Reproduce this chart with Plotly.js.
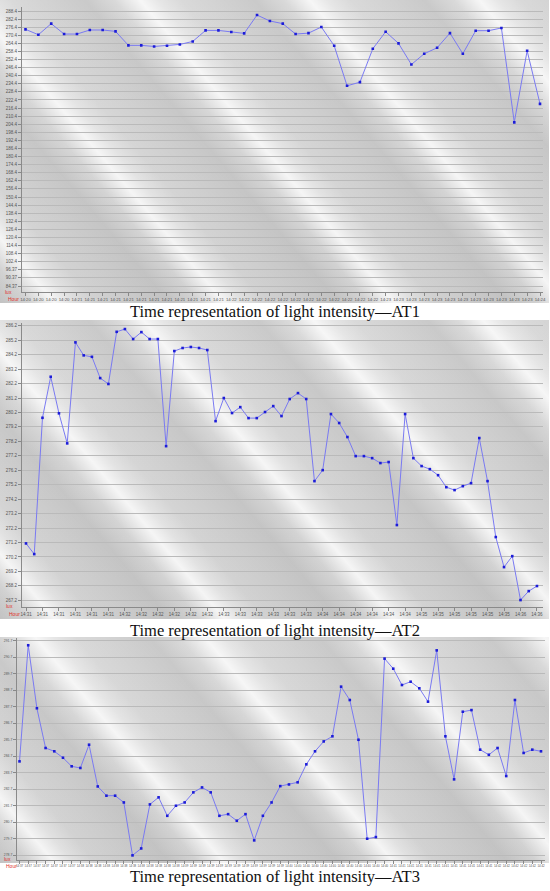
<!DOCTYPE html>
<html>
<head>
<meta charset="utf-8">
<script src="https://cdn.plot.ly/plotly-3.0.1.min.js"></script>
<style>
  html, body { margin: 0; padding: 0; background: #ffffff; }
  #wrap { position: relative; width: 550px; height: 891px; overflow: hidden; background: #ffffff; }
  .bg {
    position: absolute; left: 0; width: 549px;
    background:
      repeating-linear-gradient(50deg,
        rgba(0,0,0,0.07) 0px, rgba(255,255,255,0) 22px, rgba(255,255,255,0.78) 42px,
        rgba(255,255,255,0.35) 56px, rgba(255,255,255,0) 74px,
        rgba(0,0,0,0.03) 100px, rgba(0,0,0,0.07) 130px),
      linear-gradient(180deg, #d9d9d9, #d1d1d1);
  }
  #chart { position: absolute; left: 0; top: 0; width: 550px; height: 891px; }
</style>
</head>
<body>
<div id="wrap">
  <div class="bg" style="top:0px;height:303px"></div>
  <div class="bg" style="top:320px;height:299px"></div>
  <div class="bg" style="top:637px;height:226px"></div>
  <div id="chart"></div>
</div>
<script>
// ---------- AT1 ----------
const at1Time = ['14:20','14:20','14:20','14:20',
  '14:21','14:21','14:21','14:21','14:21','14:21','14:21','14:21','14:21','14:21','14:21','14:21',
  '14:22','14:22','14:22','14:22','14:22','14:22','14:22','14:22','14:22','14:22','14:22','14:22',
  '14:23','14:23','14:23','14:23','14:23','14:23','14:23','14:23','14:23','14:23','14:23','14:23',
  '14:24'];
const at1Lux = [274.8,270.8,279.0,271.3,271.3,274.3,274.3,273.3,262.9,262.9,262.1,262.6,263.6,265.8,
  274.0,274.0,272.8,271.8,285.4,281.0,279.0,271.3,272.0,276.5,262.6,232.9,235.6,260.4,273.0,264.4,
  248.7,256.7,261.1,272.0,256.7,273.8,273.8,275.8,205.8,258.9,219.5];
const at1YLabels = ['288.4','282.4','276.4','270.4','264.4','258.4','252.4','246.4','240.4','234.4',
  '228.4','222.4','216.4','210.4','204.4','198.4','192.4','186.4','180.4','174.4','168.4','162.4',
  '156.4','150.4','144.4','138.4','132.4','126.4','120.4','114.4','108.4','102.4','96.37','90.37','84.37'];

// ---------- AT2 ----------
const at2Time = ['14:31','14:31','14:31','14:31','14:31','14:31',
  '14:32','14:32','14:32','14:32','14:32','14:32',
  '14:33','14:33','14:33','14:33','14:33','14:33',
  '14:34','14:34','14:34','14:34','14:34','14:34',
  '14:35','14:35','14:35','14:35','14:35','14:35',
  '14:36','14:36'];
const at2Lux = [271.14,270.4,279.83,282.67,280.14,278.06,285.05,284.15,284.05,282.58,
  282.17,285.78,285.97,285.28,285.76,285.28,285.28,277.87,284.45,284.66,
  284.73,284.66,284.52,279.6,281.2,280.16,280.57,279.81,279.81,280.23,
  280.64,279.95,281.13,281.54,281.13,275.45,276.21,280.09,279.47,278.5,
  277.18,277.18,277.04,276.7,276.77,272.41,280.09,277.04,276.49,276.28,
  275.86,275.03,274.83,275.1,275.31,278.43,275.45,271.58,269.5,270.26,
  267.22,267.84,268.19];
const at2YLabels = ['286.2','285.2','284.2','283.2','282.2','281.2','280.2','279.2','278.2','277.2',
  '276.2','275.2','274.2','273.2','272.2','271.2','270.2','269.2','268.2','267.2'];

// ---------- AT3 ----------
const at3Time = ['14:37','14:37','14:37','14:37','14:37','14:37','14:37',
  '14:38','14:38','14:38','14:38','14:38','14:38','14:38','14:38','14:38','14:38','14:38','14:38',
  '14:39','14:39','14:39','14:39','14:39','14:39','14:39','14:39','14:39','14:39','14:39','14:39',
  '14:40','14:40','14:40','14:40','14:40','14:40','14:40','14:40','14:40','14:40','14:40','14:40',
  '14:41','14:41','14:41','14:41','14:41','14:41','14:41','14:41','14:41','14:41','14:41','14:41',
  '14:42','14:42','14:42','14:42','14:42','14:42'];
const at3Lux = [284.38,291.42,287.6,285.19,284.99,284.6,284.08,283.98,285.39,282.86,
  282.3,282.3,281.89,278.68,279.1,281.77,282.2,281.08,281.69,281.89,
  282.5,282.8,282.5,281.08,281.18,280.78,281.18,279.59,281.08,281.89,
  282.88,282.98,283.11,284.2,284.99,285.59,285.9,288.91,288.1,285.69,
  279.69,279.79,290.61,290.0,289.01,289.21,288.81,288.0,291.11,285.9,
  283.29,287.39,287.49,285.09,284.78,285.19,283.49,288.1,284.89,285.09,284.99];
const at3YLabels = ['291.7','290.7','289.7','288.7','287.7','286.7','285.7','284.7','283.7','282.7',
  '281.7','280.7','279.7','278.7'];

const captions = ['Time representation of light intensity\u2014AT1',
                  'Time representation of light intensity\u2014AT2',
                  'Time representation of light intensity\u2014AT3'];

// ---------- geometry helpers (pixels -> paper) ----------
const W = 550, H = 891;
const fx = p => p / W;
const fy = p => 1 - p / H;
const idx = arr => arr.map((_, i) => i);

function trace(vals, xa, ya) {
  return {
    x: idx(vals), y: vals, xaxis: xa, yaxis: ya,
    type: 'scatter', mode: 'lines+markers',
    line: { color: '#7a7af2', width: 1 },
    marker: { symbol: 'square', size: 2.6, color: '#1c1cd8' },
    hoverinfo: 'skip'
  };
}

function xAxis(domPx, range, tickvals, ticktext, anchor, fs) {
  return {
    domain: [fx(domPx[0]), fx(domPx[1])], anchor: anchor, range: range,
    tickmode: 'array', tickvals: tickvals, ticktext: ticktext, tickangle: 0,
    tickfont: { family: 'Liberation Sans, Arial, sans-serif', size: fs, color: '#555' },
    ticks: 'outside', ticklen: 3, tickcolor: '#888', tickwidth: 1,
    showline: true, linecolor: '#8a8a8a', linewidth: 1,
    showgrid: false, zeroline: false, fixedrange: true
  };
}
function yAxis(domPx, range, labels, anchor, fs) {
  return {
    domain: [fy(domPx[1]), fy(domPx[0])], anchor: anchor, range: range,
    tickmode: 'array', tickvals: labels.map(parseFloat), ticktext: labels,
    tickfont: { family: 'Liberation Sans, Arial, sans-serif', size: fs, color: '#555' },
    ticks: 'outside', ticklen: 3, tickcolor: '#888', tickwidth: 1,
    showline: true, linecolor: '#8a8a8a', linewidth: 1,
    showgrid: true, gridcolor: '#bababa', gridwidth: 1,
    zeroline: false, fixedrange: true
  };
}

const at2Ticks = at2Time.map((_, i) => i * 2);

const data = [
  trace(at1Lux, 'x', 'y'),
  trace(at2Lux, 'x2', 'y2'),
  trace(at3Lux, 'x3', 'y3')
];

function redLabel(text, xp, yp) {
  return { text: text, xref: 'paper', yref: 'paper', x: fx(xp), y: fy(yp),
    xanchor: 'center', yanchor: 'middle', showarrow: false,
    font: { family: 'Liberation Sans, Arial, sans-serif', size: 5, color: '#e0302a' } };
}
function caption(text, yp) {
  return { text: text, xref: 'paper', yref: 'paper', x: 0.5, y: fy(yp),
    xanchor: 'center', yanchor: 'middle', showarrow: false,
    font: { family: 'Liberation Serif, Times New Roman, serif', size: 16.5, color: '#111' } };
}

const layout = {
  width: W, height: H,
  margin: { l: 0, r: 0, t: 0, b: 0 },
  paper_bgcolor: 'rgba(0,0,0,0)', plot_bgcolor: 'rgba(0,0,0,0)',
  showlegend: false,
  xaxis:  xAxis([22, 543], [-0.272, 40.233], idx(at1Time), at1Time, 'y', 4.3),
  yaxis:  yAxis([7, 291.7], [80.14, 291.37], at1YLabels, 'x', 4.5),
  xaxis2: xAxis([22, 543], [-0.485, 62.73], at2Ticks, at2Time, 'y2', 4.5),
  yaxis2: yAxis([323, 607], [266.74, 286.39], at2YLabels, 'x2', 4.5),
  xaxis3: xAxis([17, 545], [-0.29, 60.46], idx(at3Time), at3Time, 'y3', 2.9),
  yaxis3: yAxis([638, 860], [278.40, 291.86], at3YLabels, 'x3', 3.4),
  annotations: [
    redLabel('lux', 8, 292), redLabel('Hour', 13, 299),
    redLabel('lux', 9, 606), redLabel('Hour', 14, 614),
    redLabel('lux', 7, 859), redLabel('Hour', 11, 866),
    caption(captions[0], 311),
    caption(captions[1], 630),
    caption(captions[2], 876)
  ]
};

Plotly.newPlot('chart', data, layout, { displayModeBar: false, staticPlot: true });
</script>
</body>
</html>
